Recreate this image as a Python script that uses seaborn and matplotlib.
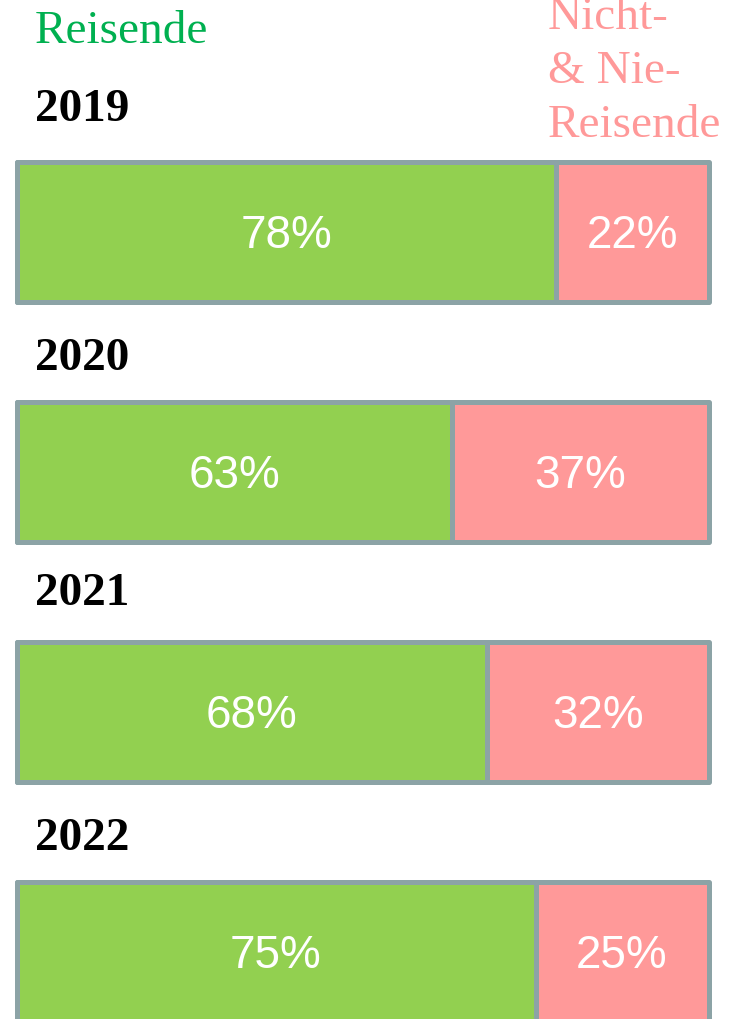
import matplotlib
matplotlib.use("Agg")
import matplotlib.pyplot as plt
import matplotlib.transforms as mtransforms
import seaborn as sns
import pandas as pd

years = ["2019", "2020", "2021", "2022"]
reisende = [78, 63, 68, 75]
nicht_reisende = [22, 37, 32, 25]
header_left = "Reisende"
header_right = "Nicht-\n& Nie-\nReisende"

GREEN = "#92D050"
PINK = "#FF9999"
EDGE = "#8CA3A6"
HEAD_GREEN = "#00B050"

df = pd.DataFrame({"year": years, "reisende": reisende, "nicht": nicht_reisende})
df["total"] = df["reisende"] + df["nicht"]

sns.set_theme(style="white")
plt.rcParams["font.family"] = ["Liberation Serif", "DejaVu Serif"]

W, H = 740, 1019
fig = plt.figure(figsize=(W / 100, H / 100), dpi=100)
ax = fig.add_axes([16.5 / W, 0, 692 / W, 1])

bw = 0.583
sns.barplot(data=df, x="total", y="year", orient="h", color=PINK, width=bw,
            edgecolor=EDGE, linewidth=3.6, saturation=1, ax=ax)
sns.barplot(data=df, x="reisende", y="year", orient="h", color=GREEN, width=bw,
            edgecolor=EDGE, linewidth=3.6, saturation=1, ax=ax)
for p in ax.patches:
    p.set_joinstyle("round")
    p.set_clip_on(False)

ax.set_xlim(0, 100)
ax.set_ylim(3.279, -0.967)
ax.set_axis_off()

for i, row in df.iterrows():
    ax.text(row["reisende"] / 2, i + 0.015, f"{row['reisende']}%", ha="center", va="center",
            color="white", fontsize=33, family=["Liberation Sans", "DejaVu Sans"])
    ax.text(row["reisende"] + row["nicht"] / 2, i + 0.015, f"{row['nicht']}%", ha="center",
            va="center", color="white", fontsize=33, family=["Liberation Sans", "DejaVu Sans"])

trans = mtransforms.blended_transform_factory(fig.transFigure, ax.transData)
year_offsets = [-0.51, -0.47, -0.49, -0.47]
for i, y in enumerate(years):
    ax.text(35 / W, i + year_offsets[i], y, transform=trans, ha="left", va="center",
            fontsize=34, fontweight="bold", color="black")

fig.text(35 / W, 1 - 32 / H, header_left, ha="left", va="center", fontsize=34,
         color=HEAD_GREEN)
fig.text(548 / W, 1 - 72 / H, header_right, ha="left", va="center", fontsize=34,
         color=PINK, linespacing=1.36)

fig.savefig("out.png", dpi=100)
